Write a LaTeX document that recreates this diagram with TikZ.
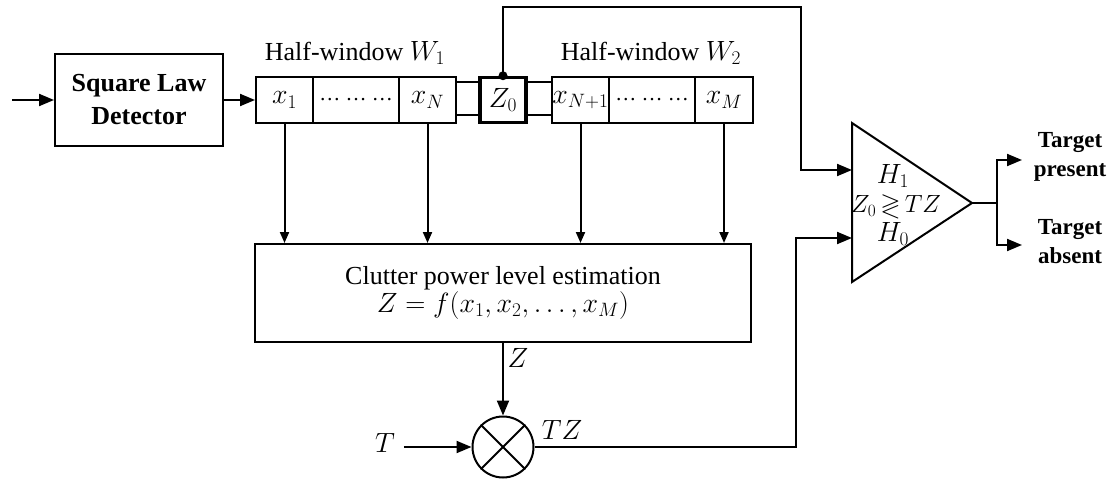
\documentclass[tikz,border=0pt]{standalone}
\usepackage{amssymb}
\usepackage{graphicx}
\usepackage{fontspec}
\setmainfont{Liberation Serif}
\usetikzlibrary{arrows.meta,calc}
\newcommand{\mth}[1]{\scalebox{1.12}{$#1$}}
\newcommand{\celldots}{{\fontsize{21}{21}\selectfont …\ …\ …}}
\begin{document}
\begin{tikzpicture}[x=1pt,y=-1pt,line width=2pt,
  font=\fontsize{26}{30}\selectfont,
  bigarr/.style={-{Triangle[length=15pt,width=12pt]}},
  smallarr/.style={-{Triangle[length=11pt,width=9pt]}},
  cell/.style={draw,minimum height=46,inner sep=0pt,anchor=west},
  cmptxt/.style={inner sep=0.5pt},
  boldtxt/.style={font=\fontsize{26}{33}\selectfont\bfseries,align=center},
  tgt/.style={font=\fontsize{23}{29}\selectfont\bfseries,align=center}]
\useasboundingbox (0,0) rectangle (1116,481);
% detector
\node[draw,minimum width=168,minimum height=92,boldtxt] (det) at (139,100) {Square Law\\Detector};
\coordinate (in) at (12,100);
\draw[bigarr] (in) -- (det.west);
% cells
\node[cell,minimum width=57] (c1) at (255,100) {\mth{x_1}};
\node[cell,minimum width=86] (cd1) at (312,100) {\celldots};
\node[cell,minimum width=57] (cN) at (398,100) {\mth{x_N}};
\node[draw,line width=3.5pt,minimum width=46,minimum height=45,inner sep=0pt] (z0) at (503,100) {\mth{Z_0}};
\node[cell,minimum width=57] (cN1) at (551,100) {\mth{x_{N+1}}};
\node[cell,minimum width=86] (cd2) at (608,100) {\celldots};
\node[cell,minimum width=58] (cM) at (694,100) {\mth{x_M}};
\draw[bigarr] (det.east) -- (c1.west);
% links
\draw ($(cN.east)+(0,-18)$) -- ($(z0.west)+(0,-18)$);
\draw ($(cN.east)+(0,15)$) -- ($(z0.west)+(0,15)$);
\draw ($(z0.east)+(0,-18)$) -- ($(cN1.west)+(0,-18)$);
\draw ($(z0.east)+(0,15)$) -- ($(cN1.west)+(0,15)$);
% labels
\node (w1) at (355,53) {Half-window \mth{W_1}};
\node (w2) at (651,53) {Half-window \mth{W_2}};
% estimator
\node[draw,minimum width=496,minimum height=98,align=center,font=\fontsize{26}{28}\selectfont] (est) at (503,293)
  {Clutter power level estimation\\\mth{Z=f(x_1,x_2,\dots,x_M)}};
\foreach \c in {c1,cN,cN1,cM}{
  \draw[smallarr] (\c.south) -- (\c.south |- est.north);
}
% multiplier
\node[draw,circle,minimum size=61,inner sep=0pt] (mul) at (503,447) {};
\draw (mul.north west) -- (mul.south east);
\draw (mul.north east) -- (mul.south west);
\draw[bigarr] (est.south) -- (mul.north);
\node (zl) at (518,358) {\mth{Z}};
\node[inner sep=8pt] (T) at (385,443) {\mth{T}};
\draw[bigarr] (T.east |- mul.west) -- (mul.west);
\node (tzl) at (562,430) {\mth{TZ}};
% comparator
\coordinate (ta) at (852,123);
\coordinate (tb) at (852,282);
\coordinate (tc) at (972,203);
\draw (ta) -- (tc) -- (tb) -- cycle;
\node[cmptxt] (h1) at (893,176) {\mth{H_1}};
\node[cmptxt] (cmp) at (896,206) {$Z_0\,{\gtrless}\,TZ$};
\node[cmptxt] (h0) at (893,234) {\mth{H_0}};
\coordinate (tin1) at (852,170);
\coordinate (tin2) at (852,238);
\coordinate (k1) at (801,7);
\coordinate (k2) at (796,447);
\draw[bigarr] (z0.north) |- (k1) |- (tin1);
\fill (z0.north) circle (4.5);
\draw[bigarr] (mul.east) -- (k2) |- (tin2);
% outputs
\coordinate (ob) at (997,203);
\coordinate (o1) at (1022,160);
\coordinate (o2) at (1022,245);
\draw (tc) -- (ob);
\draw[bigarr] (ob) |- (o1);
\draw[bigarr] (ob) |- (o2);
\node[tgt] (tp) at (1070,157) {Target\\present};
\node[tgt] (ta2) at (1070,242) {Target\\absent};
\end{tikzpicture}
\end{document}
